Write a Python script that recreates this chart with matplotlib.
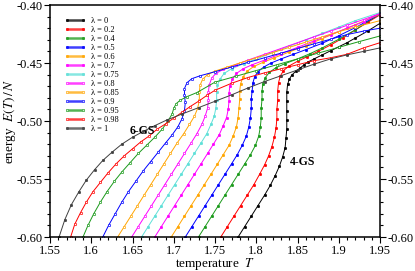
import matplotlib
matplotlib.use("Agg")
import matplotlib.pyplot as plt

plt.rcParams['font.family'] = ['Liberation Serif', 'DejaVu Serif']
plt.rcParams['mathtext.fontset'] = 'stix'

lambdas = ["0", "0.2", "0.4", "0.5", "0.6", "0.7", "0.75", "0.8", "0.85", "0.9", "0.95", "0.98", "1"]

T_l0 = [1.778, 1.786, 1.794, 1.802, 1.810, 1.817, 1.823, 1.828, 1.832, 1.835, 1.836, 1.837, 1.837, 1.837, 1.837, 1.837, 1.838, 1.840, 1.843, 1.848, 1.853, 1.858, 1.863, 1.870, 1.880, 1.890, 1.900, 1.910, 1.920, 1.935, 1.950]
E_l0 = [-0.600, -0.591, -0.582, -0.573, -0.564, -0.5555, -0.547, -0.539, -0.531, -0.523, -0.515, -0.507, -0.499, -0.491, -0.483, -0.475, -0.4685, -0.464, -0.4605, -0.457, -0.4545, -0.4515, -0.449, -0.4465, -0.443, -0.4395, -0.436, -0.4325, -0.4285, -0.4225, -0.4158]

T_l02 = [1.757, 1.765, 1.773, 1.781, 1.789, 1.797, 1.804, 1.810, 1.815, 1.819, 1.822, 1.824, 1.825, 1.825, 1.826, 1.826, 1.827, 1.829, 1.833, 1.840, 1.850, 1.862, 1.875, 1.890, 1.905, 1.920, 1.935, 1.950]
E_l02 = [-0.600, -0.591, -0.582, -0.573, -0.564, -0.555, -0.546, -0.538, -0.530, -0.522, -0.514, -0.506, -0.498, -0.490, -0.482, -0.474, -0.467, -0.4615, -0.4565, -0.4525, -0.4485, -0.4445, -0.440, -0.4345, -0.4285, -0.4215, -0.415, -0.4085]

T_l04 = [1.730, 1.738, 1.746, 1.754, 1.762, 1.770, 1.778, 1.786, 1.793, 1.799, 1.803, 1.805, 1.806, 1.806, 1.807, 1.807, 1.808, 1.811, 1.816, 1.824, 1.835, 1.850, 1.865, 1.880, 1.900, 1.920, 1.950]
E_l04 = [-0.600, -0.591, -0.582, -0.573, -0.564, -0.555, -0.546, -0.537, -0.529, -0.521, -0.513, -0.505, -0.497, -0.489, -0.481, -0.474, -0.468, -0.4625, -0.458, -0.454, -0.4505, -0.4465, -0.442, -0.437, -0.4295, -0.4215, -0.4075]

T_l05 = [1.714, 1.722, 1.730, 1.738, 1.746, 1.754, 1.762, 1.770, 1.777, 1.783, 1.788, 1.791, 1.793, 1.794, 1.794, 1.795, 1.796, 1.798, 1.802, 1.809, 1.818, 1.830, 1.845, 1.860, 1.880, 1.900, 1.920, 1.950]
E_l05 = [-0.600, -0.591, -0.582, -0.573, -0.564, -0.555, -0.546, -0.537, -0.529, -0.521, -0.513, -0.505, -0.497, -0.489, -0.481, -0.474, -0.467, -0.462, -0.4575, -0.4535, -0.450, -0.4465, -0.4425, -0.4385, -0.433, -0.4265, -0.4195, -0.408]

T_l06 = [1.697, 1.705, 1.713, 1.721, 1.729, 1.737, 1.745, 1.753, 1.760, 1.767, 1.772, 1.776, 1.778, 1.779, 1.780, 1.780, 1.781, 1.784, 1.789, 1.797, 1.808, 1.822, 1.840, 1.860, 1.880, 1.900, 1.920, 1.950]
E_l06 = [-0.600, -0.591, -0.582, -0.573, -0.564, -0.555, -0.546, -0.537, -0.529, -0.521, -0.513, -0.505, -0.497, -0.489, -0.481, -0.474, -0.468, -0.462, -0.457, -0.453, -0.4495, -0.4455, -0.4405, -0.435, -0.429, -0.423, -0.417, -0.408]

T_l07 = [1.677, 1.685, 1.693, 1.701, 1.709, 1.717, 1.725, 1.733, 1.741, 1.748, 1.755, 1.760, 1.764, 1.766, 1.767, 1.767, 1.768, 1.771, 1.776, 1.784, 1.795, 1.810, 1.830, 1.850, 1.870, 1.890, 1.910, 1.930, 1.950]
E_l07 = [-0.600, -0.591, -0.582, -0.573, -0.564, -0.555, -0.546, -0.537, -0.528, -0.520, -0.512, -0.504, -0.497, -0.490, -0.483, -0.476, -0.470, -0.464, -0.459, -0.455, -0.4515, -0.4475, -0.442, -0.4365, -0.431, -0.4255, -0.420, -0.4145, -0.407]

T_l075 = [1.661, 1.669, 1.677, 1.685, 1.693, 1.701, 1.709, 1.717, 1.725, 1.733, 1.740, 1.745, 1.749, 1.751, 1.752, 1.752, 1.753, 1.756, 1.761, 1.770, 1.785, 1.800, 1.820, 1.840, 1.860, 1.880, 1.900, 1.920, 1.950]
E_l075 = [-0.600, -0.591, -0.582, -0.573, -0.564, -0.555, -0.546, -0.537, -0.528, -0.519, -0.511, -0.503, -0.496, -0.489, -0.482, -0.475, -0.469, -0.464, -0.459, -0.455, -0.4505, -0.4465, -0.441, -0.4355, -0.430, -0.4245, -0.419, -0.4135, -0.4065]

T_l08 = [1.649, 1.657, 1.665, 1.673, 1.681, 1.689, 1.697, 1.705, 1.713, 1.721, 1.728, 1.734, 1.738, 1.741, 1.742, 1.742, 1.743, 1.746, 1.751, 1.760, 1.775, 1.790, 1.810, 1.830, 1.850, 1.870, 1.890, 1.910, 1.930, 1.950]
E_l08 = [-0.600, -0.591, -0.582, -0.573, -0.564, -0.555, -0.546, -0.537, -0.528, -0.519, -0.511, -0.503, -0.496, -0.489, -0.482, -0.475, -0.469, -0.463, -0.459, -0.4555, -0.4515, -0.4475, -0.4425, -0.4375, -0.4325, -0.4275, -0.4225, -0.4175, -0.4125, -0.4075]

T_l085 = [1.632, 1.640, 1.648, 1.656, 1.664, 1.672, 1.680, 1.688, 1.696, 1.704, 1.712, 1.719, 1.725, 1.729, 1.731, 1.731, 1.732, 1.735, 1.741, 1.750, 1.765, 1.780, 1.800, 1.820, 1.840, 1.860, 1.880, 1.900, 1.920, 1.950]
E_l085 = [-0.600, -0.591, -0.582, -0.573, -0.564, -0.555, -0.546, -0.537, -0.528, -0.519, -0.511, -0.503, -0.496, -0.489, -0.482, -0.475, -0.469, -0.464, -0.460, -0.457, -0.4535, -0.450, -0.4455, -0.441, -0.4365, -0.432, -0.4275, -0.423, -0.419, -0.4135]

T_l09 = [1.614, 1.621, 1.629, 1.637, 1.645, 1.654, 1.663, 1.672, 1.681, 1.690, 1.698, 1.705, 1.710, 1.713, 1.714, 1.713, 1.713, 1.716, 1.722, 1.732, 1.750, 1.770, 1.790, 1.810, 1.830, 1.850, 1.870, 1.890, 1.910, 1.930, 1.950]
E_l09 = [-0.600, -0.590, -0.580, -0.570, -0.561, -0.552, -0.543, -0.535, -0.527, -0.519, -0.512, -0.505, -0.498, -0.491, -0.484, -0.478, -0.472, -0.467, -0.4635, -0.461, -0.4575, -0.4535, -0.4495, -0.4455, -0.4415, -0.4375, -0.4335, -0.4295, -0.4255, -0.4225, -0.420]

T_l095 = [1.590, 1.596, 1.603, 1.611, 1.619, 1.628, 1.637, 1.647, 1.657, 1.667, 1.677, 1.686, 1.693, 1.698, 1.700, 1.703, 1.708, 1.716, 1.728, 1.750, 1.775, 1.800, 1.825, 1.850, 1.875, 1.900, 1.925, 1.950]
E_l095 = [-0.600, -0.590, -0.580, -0.570, -0.561, -0.552, -0.544, -0.536, -0.528, -0.521, -0.514, -0.507, -0.500, -0.494, -0.489, -0.485, -0.482, -0.479, -0.4755, -0.4665, -0.4615, -0.4565, -0.4515, -0.4465, -0.4415, -0.4365, -0.4315, -0.4267]

T_l098 = [1.575, 1.580, 1.587, 1.594, 1.602, 1.611, 1.620, 1.630, 1.640, 1.650, 1.660, 1.670, 1.680, 1.690, 1.700, 1.710, 1.720, 1.730, 1.740, 1.750, 1.770, 1.790, 1.810, 1.830, 1.850, 1.870, 1.890, 1.910, 1.930, 1.950]
E_l098 = [-0.600, -0.589, -0.579, -0.570, -0.561, -0.553, -0.545, -0.537, -0.530, -0.524, -0.518, -0.513, -0.507, -0.5025, -0.4975, -0.4925, -0.4875, -0.483, -0.478, -0.4735, -0.4675, -0.4625, -0.4585, -0.455, -0.4515, -0.448, -0.4455, -0.4425, -0.437, -0.4325]

T_l1 = [1.561, 1.568, 1.576, 1.585, 1.594, 1.604, 1.614, 1.625, 1.637, 1.650, 1.663, 1.677, 1.692, 1.710, 1.730, 1.750, 1.770, 1.790, 1.810, 1.830, 1.850, 1.870, 1.890, 1.910, 1.930, 1.950]
E_l1 = [-0.600, -0.585, -0.572, -0.561, -0.551, -0.542, -0.534, -0.527, -0.520, -0.514, -0.509, -0.504, -0.499, -0.494, -0.4885, -0.483, -0.4775, -0.4715, -0.466, -0.461, -0.456, -0.451, -0.4465, -0.443, -0.440, -0.437]

T_all = [T_l0, T_l02, T_l04, T_l05, T_l06, T_l07, T_l075, T_l08, T_l085, T_l09, T_l095, T_l098, T_l1]
E_all = [E_l0, E_l02, E_l04, E_l05, E_l06, E_l07, E_l075, E_l08, E_l085, E_l09, E_l095, E_l098, E_l1]

colors = ['#000000', '#ff0000', '#1a9a1a', '#0000ff', '#ffa500', '#ff00ff',
          '#5fe0d8', '#ff00ff', '#ffa500', '#0000ff', '#1a9a1a', '#ff0000', '#404040']
filled = [True, True, True, True, True, True, True, False, False, False, False, False, True]

fig = plt.figure(figsize=(4.15, 2.71), dpi=100)
ax = fig.add_axes([50/415, 1-237/271, 330/415, 232/271])

for lab, T, E, c, f in zip(lambdas, T_all, E_all, colors, filled):
    ax.plot(T, E, '-', color=c, lw=0.7, marker='o', ms=1.7,
            mfc=c if f else 'white', mec=c, mew=0.5,
            label='λ = ' + lab)

ax.set_xlim(1.55, 1.95)
ax.set_ylim(-0.60, -0.40)
ax.set_xticks([1.55, 1.6, 1.65, 1.7, 1.75, 1.8, 1.85, 1.9, 1.95])
ax.set_xticklabels(['1.55', '1.6', '1.65', '1.7', '1.75', '1.8', '1.85', '1.9', '1.95'])
ax.set_yticks([-0.60, -0.55, -0.50, -0.45, -0.40])
ax.set_yticklabels(['-0.60', '-0.55', '-0.50', '-0.45', '-0.40'])
ax.set_xticks([1.55 + 0.01*i for i in range(41)], minor=True)
ax.set_yticks([-0.60 + 0.01*i for i in range(21)], minor=True)
ax.tick_params(which='both', direction='out', top=False, right=True,
               labelright=True, labelsize=9, width=0.8, pad=1.5)
ax.tick_params(which='major', length=4)
ax.tick_params(which='minor', length=2.5)
for s in ax.spines.values():
    s.set_linewidth(1.1)

ax.set_xlabel('temperature  $T$', fontsize=9.5, labelpad=-0.5)
ax.set_ylabel('energy  $E(T)\\,/\\,N$', fontsize=9.5, labelpad=-1)

ax.text(1.6615, -0.5085, '6-GS', fontsize=8.5, fontweight='bold', ha='center', va='center')
ax.text(1.8565, -0.5355, '4-GS', fontsize=8.5, fontweight='bold', ha='center', va='center')

leg = ax.legend(loc='upper left', bbox_to_anchor=(0.025, 0.975), frameon=False,
                fontsize=6, handlelength=2.6, labelspacing=0.12,
                handletextpad=0.6, borderpad=0.2, numpoints=2)
for h in leg.get_lines():
    h.set_linewidth(1.8)
    h.set_alpha(0.75)

fig.savefig('out.png', dpi=100)
